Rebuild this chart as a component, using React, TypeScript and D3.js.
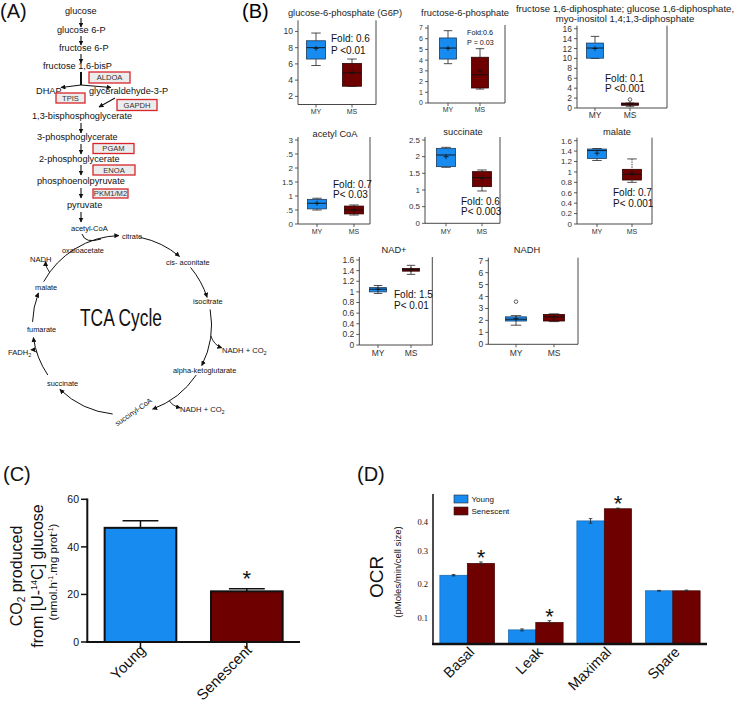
import React from "react";
import * as d3 from "d3";

const FONT = "'Liberation Sans', Arial, Helvetica, sans-serif";
const SERIF = "'Liberation Serif', 'Times New Roman', serif";
const BLUE = "#178bf0";
const DARKRED = "#6e0000";

// ---------------- Panel A (pathway) ----------------
const glycolysisSteps = [
  "glucose", "glucose 6-P", "fructose 6-P", "fructose 1,6-bisP", "DHAP", "glyceraldehyde-3-P",
  "1,3-bisphosphoglycerate", "3-phosphoglycerate", "2-phosphoglycerate", "phosphoenolpyruvate",
  "pyruvate", "acetyl-CoA",
];
const enzymes = ["ALDOA", "TPIS", "GAPDH", "PGAM", "ENOA", "PKM1/M2"];
const tcaIntermediates = [
  "citrate", "cis- aconitate", "isocitrate", "alpha-ketoglutarate", "succinate", "fumarate",
  "malate", "oxaloacetate",
];
const tcaCofactors = ["NADH", "FADH", "NADH + CO", "NADH + CO"];

// ---------------- Panel B (box plots) [min, q1, median, q3, max, mean] ----------------
const boxGroups = ["MY", "MS"];
const g6pBox = [[5.8, 6.6, 8.0, 8.85, 9.8, 7.9], [3.25, 3.25, 4.9, 6.05, 6.6, 4.95]];
const f6pBox = [[3.67, 4.1, 5.13, 6.07, 6.75, 5.1], [1.3, 1.4, 2.64, 4.27, 5.07, 2.96]];
const fbpBox = [[10.0, 10.05, 12.1, 13.1, 14.45, 12.0], [0.35, 0.55, 0.8, 1.0, 1.0, 0.8]];
const acetylCoaBox = [[0.5, 0.54, 0.74, 0.88, 0.92, 0.74], [0.32, 0.36, 0.5, 0.64, 0.68, 0.5]];
const succinateBox = [[1.68, 1.7, 2.05, 2.25, 2.28, 2.0], [0.97, 1.1, 1.37, 1.55, 1.6, 1.35]];
const malateBox = [[1.22, 1.26, 1.41, 1.44, 1.45, 1.36], [0.8, 0.845, 0.955, 1.05, 1.25, 0.97]];
const nadBox = [[0.97, 1.0, 1.05, 1.08, 1.12, 1.05], [1.33, 1.39, 1.42, 1.44, 1.5, 1.42]];
const nadhBox = [[1.6, 1.95, 2.1, 2.3, 2.4, 2.15], [1.9, 1.95, 2.3, 2.5, 2.55, 2.25]];
const fbpOutliers = [[], [1.7]];
const nadhOutliers = [[3.57], []];
const noOutliers = [[], []];

const metaboliteTitles = [
  ["glucose-6-phosphate (G6P)"],
  ["fructose-6-phosphate"],
  ["fructose 1,6-diphosphate; glucose 1,6-diphosphate,", "myo-inositol 1,4;1,3-diphosphate"],
  ["acetyl CoA"],
  ["succinate"],
  ["malate"],
  ["NAD+"],
  ["NADH"],
];
const foldTexts = [
  ["Fold: 0.6", "P <0.01"],
  ["Fold:0.6", "P = 0.03"],
  ["Fold: 0.1", "P <0.001"],
  ["Fold: 0.7", "P< 0.03"],
  ["Fold: 0.6", "P< 0.003"],
  ["Fold: 0.7", "P< 0.001"],
  ["Fold: 1.5", "P< 0.01"],
  [],
];
const boxDomains = [[1, 11], [0, 7], [0, 16], [0, 3], [0, 2.5], [0, 1.6], [0, 1.6], [0, 7]];
const boxTicks = [
  [2, 4, 6, 8, 10],
  [0, 1, 2, 3, 4, 5, 6, 7],
  [0, 2, 4, 6, 8, 10, 12, 14, 16],
  [0, 0.5, 1, 1.5, 2, 2.5, 3],
  [0, 0.5, 1, 1.5, 2, 2.5],
  [0, 0.2, 0.4, 0.6, 0.8, 1, 1.2, 1.4, 1.6],
  [0, 0.2, 0.4, 0.6, 0.8, 1, 1.2, 1.4, 1.6],
  [0, 1, 2, 3, 4, 5, 6, 7],
];
const acetylTickLabels = ["0", ".5", "1", "1.5", "2", ".5", "3"];

// ---------------- Panel C ----------------
const co2Groups = ["Young", "Senescent"];
const co2Values = [48, 21.3];
const co2Errors = [3, 1.1];
const co2Ticks = [0, 20, 40, 60];
const co2Significant = [false, true];

// ---------------- Panel D ----------------
const ocrCategories = ["Basal", "Leak", "Maximal", "Spare"];
const ocrSeries = ["Young", "Senescent"];
const ocrYoung = [0.227, 0.064, 0.405, 0.181];
const ocrSenescent = [0.2625, 0.0875, 0.448, 0.181];
const ocrYoungErr = [0.002, 0.003, 0.008, 0.001];
const ocrSenescentErr = [0.004, 0.005, 0.002, 0.002];
const ocrSignificant = [true, true, true, false];
const ocrTicks = [0.1, 0.2, 0.3, 0.4];

// ---------------- layouts (positions only) ----------------
const stepPos = [[65, 14], [57, 33], [59, 51], [43, 69], [36, 94], [89, 94], [32, 119], [37, 140], [39, 162], [37, 184], [67, 208], [71, 231]];
const enzymeBoxPos = [[89, 72, 41, 11], [56, 93, 29, 10], [117, 99.5, 40, 11], [93, 143.5, 41, 10], [93, 165, 42, 10], [93, 189, 35, 9]];
const glycoArrows = [[81, 18, 81, 27], [81, 36, 81, 45], [81, 54, 81, 63], [81, 85, 61, 87.5], [81, 85, 111, 87.5], [115, 98, 99, 107], [81, 123, 81, 133], [81, 144, 81, 154], [81, 165, 81, 175], [81, 188, 81, 198], [81, 212, 81, 222]];
const tcaLabelPos = [[122, 239], [166, 265], [193, 304], [173, 373], [47, 386], [27, 332], [35, 290], [62, 253]];
const tcaArcs = [[12, 40], [50, 72], [80, 117], [124, 160], [186, 224], [236, 262], [272, 291], [299, 358]];

const boxLayouts = [
  { left: 298, right: 376, top: 23.3, bottom: 104.5, centers: [316, 352], bw: 19, tf: 8.5, titleX: 345, titleY: [16], titleF: 9.3, foldX: 331, foldY: [42, 54], foldF: 10, labelY: 114, labelF: 7 },
  { left: 428, right: 505, top: 28, bottom: 103, centers: [448, 480], bw: 17, tf: 7, titleX: 465, titleY: [16], titleF: 9.3, foldX: 467, foldY: [35, 45], foldF: 7.2, labelY: 112, labelF: 7 },
  { left: 577, right: 667, top: 28.7, bottom: 108, centers: [595, 630], bw: 17, tf: 8.5, titleX: 625, titleY: [12, 21.5], titleF: 9.6, foldX: 605, foldY: [82, 92], foldF: 10, labelY: 118, labelF: 8.5 },
  { left: 298, right: 370, top: 140, bottom: 224, centers: [317, 354], bw: 19, tf: 8, titleX: 335, titleY: [137], titleF: 9.3, foldX: 333, foldY: [188, 198], foldF: 10, labelY: 234, labelF: 7 },
  { left: 425, right: 500, top: 140, bottom: 223.3, centers: [446, 482], bw: 19, tf: 8, titleX: 463, titleY: [135], titleF: 9.3, foldX: 461, foldY: [205, 215], foldF: 10, labelY: 234, labelF: 7 },
  { left: 577, right: 652, top: 140.7, bottom: 224, centers: [597, 632], bw: 19, tf: 8, titleX: 617, titleY: [135], titleF: 9.3, foldX: 613, foldY: [196, 206.5], foldF: 10, labelY: 234, labelF: 7 },
  { left: 359.3, right: 432.3, top: 260, bottom: 345, centers: [378, 411], bw: 17, tf: 8.5, titleX: 394, titleY: [253], titleF: 9.3, foldX: 394, foldY: [298, 309], foldF: 10, labelY: 356, labelF: 8.5 },
  { left: 488.3, right: 578, top: 260.7, bottom: 344.3, centers: [516, 554], bw: 21, tf: 8.5, titleX: 527, titleY: [253], titleF: 9.3, foldX: 0, foldY: [], foldF: 10, labelY: 356, labelF: 8.5 },
];
const boxData = [g6pBox, f6pBox, fbpBox, acetylCoaBox, succinateBox, malateBox, nadBox, nadhBox];
const boxOutliers = [noOutliers, noOutliers, fbpOutliers, noOutliers, noOutliers, noOutliers, noOutliers, nadhOutliers];

function BoxPanel({ idx }: { idx: number }) {
  const L = boxLayouts[idx];
  const data = boxData[idx];
  const y = d3.scaleLinear().domain(boxDomains[idx]).range([L.bottom, L.top]);
  const x = d3.scalePoint().domain(boxGroups).range(L.centers);
  const axisTop = L.top - 3;
  const fmt = (v: number, i: number) => (idx === 3 ? acetylTickLabels[i] : String(+v.toFixed(2)));
  return (
    <g fontFamily={FONT}>
      {metaboliteTitles[idx].map((t, i) => (
        <text key={i} x={L.titleX} y={L.titleY[i]} fontSize={L.titleF} textAnchor="middle" fill="#222">{t}</text>
      ))}
      <line x1={L.left} x2={L.left} y1={axisTop} y2={L.bottom} stroke="#333" strokeWidth={0.9} />
      <line x1={L.left} x2={L.right} y1={L.bottom} y2={L.bottom} stroke="#333" strokeWidth={0.9} />
      <line x1={L.right} x2={L.right} y1={axisTop} y2={L.bottom} stroke="#333" strokeWidth={0.9} />
      {boxTicks[idx].map((v, i) => (
        <g key={i}>
          <line x1={L.left - 3} x2={L.left} y1={y(v)} y2={y(v)} stroke="#333" strokeWidth={0.8} />
          <text x={L.left - 5} y={y(v)} dy="0.35em" fontSize={L.tf} textAnchor="end" fill="#333">{fmt(v, i)}</text>
        </g>
      ))}
      {boxGroups.map((g, gi) => {
        const [mn, q1, md, q3, mx, mean] = data[gi];
        const cx = x(g) as number;
        const fill = gi === 0 ? BLUE : DARKRED;
        const cap = L.bw * 0.5;
        return (
          <g key={g}>
            <line x1={cx} x2={cx} y1={L.bottom} y2={L.bottom + 3} stroke="#333" strokeWidth={0.8} />
            <text x={cx} y={L.labelY} fontSize={L.labelF} textAnchor="middle" fill="#333">{g}</text>
            <line x1={cx} x2={cx} y1={y(mx)} y2={y(q3)} stroke="#222" strokeWidth={0.8} strokeDasharray={idx === 5 && gi === 1 ? "1.5,1" : undefined} />
            <line x1={cx} x2={cx} y1={y(q1)} y2={y(mn)} stroke="#222" strokeWidth={0.8} />
            <line x1={cx - cap / 2} x2={cx + cap / 2} y1={y(mx)} y2={y(mx)} stroke="#222" strokeWidth={0.8} />
            <line x1={cx - cap / 2} x2={cx + cap / 2} y1={y(mn)} y2={y(mn)} stroke="#222" strokeWidth={0.8} />
            <rect x={cx - L.bw / 2} y={y(q3)} width={L.bw} height={Math.max(1.2, y(q1) - y(q3))} fill={fill} stroke={gi === 0 ? "#1d3b5c" : "#2a0000"} strokeWidth={0.8} />
            <line x1={cx - L.bw / 2} x2={cx + L.bw / 2} y1={y(md)} y2={y(md)} stroke="#111" strokeWidth={0.9} />
            <line x1={cx - 2.5} x2={cx + 2.5} y1={y(mean)} y2={y(mean)} stroke="#111" strokeWidth={0.8} />
            <line x1={cx} x2={cx} y1={y(mean) - 2.5} y2={y(mean) + 2.5} stroke="#111" strokeWidth={0.8} />
            {boxOutliers[idx][gi].map((o, oi) => (
              <circle key={oi} cx={cx} cy={y(o)} r={1.8} fill="none" stroke="#222" strokeWidth={0.7} />
            ))}
          </g>
        );
      })}
      {foldTexts[idx].map((t, i) => (
        <text key={i} x={L.foldX} y={L.foldY[i]} fontSize={L.foldF} fill="#111">{t}</text>
      ))}
    </g>
  );
}

function PanelA() {
  const cx = 122, cy = 325, r = 89.5;
  const pt = (a: number) => [cx + r * Math.sin((a * Math.PI) / 180), cy - r * Math.cos((a * Math.PI) / 180)];
  const arcPath = (a0: number, a1: number) => {
    const [x0, y0] = pt(a0);
    const [x1, y1] = pt(a1);
    return `M${x0},${y0} A${r},${r} 0 ${a1 - a0 > 180 ? 1 : 0} 1 ${x1},${y1}`;
  };
  const [n1x, n1y] = pt(97);
  const [n2x, n2y] = pt(148);
  const [fx, fy] = pt(252);
  const [nx, ny] = pt(306);
  return (
    <g fontFamily={FONT} fill="#111">
      <text x={0} y={18} fontSize={20}>(A)</text>
      {glycolysisSteps.map((s, i) => (
        <text key={s} x={stepPos[i][0]} y={stepPos[i][1]} fontSize={i === 11 ? 7.5 : 9.2}>{s}</text>
      ))}
      <line x1={81} x2={81} y1={72} y2={85} stroke="#111" strokeWidth={2} />
      {glycoArrows.map((a, i) => (
        <line key={i} x1={a[0]} y1={a[1]} x2={a[2]} y2={a[3]} stroke="#111" strokeWidth={1.1} markerEnd="url(#ah)" />
      ))}
      {enzymes.map((e, i) => {
        const [bx, by, bw, bh] = enzymeBoxPos[i];
        return (
          <g key={e}>
            <rect x={bx} y={by} width={bw} height={bh} fill="#ececec" stroke="#d8262b" strokeWidth={1.3} />
            <text x={bx + bw / 2} y={by + bh / 2} dy="0.35em" fontSize={7.6} textAnchor="middle" fill="#333">{e}</text>
          </g>
        );
      })}
      {tcaArcs.map((a, i) => (
        <path key={i} d={arcPath(a[0], a[1])} fill="none" stroke="#111" strokeWidth={1} markerEnd="url(#ah)" />
      ))}
      <path d="M82,234 Q85,244 101,239" fill="none" stroke="#111" strokeWidth={1} />
      <path d={`M${n1x},${n1y} Q${n1x + 3},${n1y + 9} ${n1x + 11},${n1y + 12}`} fill="none" stroke="#111" strokeWidth={0.9} markerEnd="url(#ah)" />
      <path d={`M${n2x},${n2y} Q${n2x + 3},${n2y + 5} ${n2x + 11},${n2y + 7}`} fill="none" stroke="#111" strokeWidth={0.9} markerEnd="url(#ah)" />
      <path d={`M${fx},${fy} Q${fx - 2},${fy - 3} ${fx - 6},${fy - 3}`} fill="none" stroke="#111" strokeWidth={0.9} markerEnd="url(#ah)" />
      <path d={`M${nx},${ny} Q${nx - 4},${ny - 5} ${nx - 4},${ny - 11}`} fill="none" stroke="#111" strokeWidth={0.9} markerEnd="url(#ah)" />
      {tcaIntermediates.map((s, i) => (
        <text key={s} x={tcaLabelPos[i][0]} y={tcaLabelPos[i][1]} fontSize={7.4}>{s}</text>
      ))}
      <text transform="translate(135,414) rotate(-35)" fontSize={7.4} textAnchor="middle">succinyl-CoA</text>
      <text x={30} y={262} fontSize={7.6}>{tcaCofactors[0]}</text>
      <text x={8} y={355} fontSize={7.6}>{tcaCofactors[1]}<tspan fontSize={5.5} dy={2}>2</tspan></text>
      <text x={222} y={353} fontSize={7.6}>{tcaCofactors[2]}<tspan fontSize={5.5} dy={2}>2</tspan></text>
      <text x={180} y={412} fontSize={7.6}>{tcaCofactors[3]}<tspan fontSize={5.5} dy={2}>2</tspan></text>
      <text x={80} y={326} fontSize={23} textLength={82} lengthAdjust="spacingAndGlyphs">TCA Cycle</text>
    </g>
  );
}

function PanelC() {
  const y = d3.scaleLinear().domain([0, 60]).range([642, 499.3]);
  const x = d3.scaleBand().domain(co2Groups).range([87.3, 300]).paddingInner(0.326).paddingOuter(0.163);
  const bw = x.bandwidth();
  return (
    <g fontFamily={FONT} fill="#111">
      <text x={3} y={481} fontSize={20}>(C)</text>
      {co2Groups.map((g, i) => {
        const x0 = x(g) as number;
        const cxp = x0 + bw / 2;
        const top = y(co2Values[i] + co2Errors[i]);
        return (
          <g key={g}>
            <line x1={cxp} x2={cxp} y1={top} y2={y(co2Values[i])} stroke="#111" strokeWidth={1.5} />
            <line x1={cxp - bw / 4} x2={cxp + bw / 4} y1={top} y2={top} stroke="#111" strokeWidth={1.5} />
            <rect x={x0} y={y(co2Values[i])} width={bw} height={y(0) - y(co2Values[i])} fill={i === 0 ? BLUE : DARKRED} stroke="#111" strokeWidth={2} />
            <line x1={cxp} x2={cxp} y1={642} y2={648} stroke="#111" strokeWidth={1.5} />
            <text transform={`translate(${cxp + 6},${651}) rotate(-45)`} fontSize={15} textAnchor="end">{g}</text>
            {co2Significant[i] && (
              <text x={cxp} y={top - 15.7 + 13} fontSize={22} textAnchor="middle">*</text>
            )}
          </g>
        );
      })}
      <line x1={87.3} x2={87.3} y1={498.5} y2={643} stroke="#111" strokeWidth={2} />
      <line x1={86.3} x2={300} y1={642} y2={642} stroke="#111" strokeWidth={2} />
      {co2Ticks.map((t) => (
        <g key={t}>
          <line x1={81} x2={87} y1={y(t)} y2={y(t)} stroke="#111" strokeWidth={1.5} />
          <text x={79} y={y(t)} dy="0.35em" fontSize={10.5} textAnchor="end">{t}</text>
        </g>
      ))}
      <g transform="translate(22,576) rotate(-90)">
        <text x={0} y={0} fontSize={16} textAnchor="middle">CO<tspan fontSize={10} dy={3}>2</tspan><tspan dy={-3}> produced</tspan></text>
        <text x={0} y={20.5} fontSize={16} textAnchor="middle">from [U-<tspan fontSize={9} dy={-6}>14</tspan><tspan dy={6}>C] glucose</tspan></text>
        <text x={4} y={35} fontSize={11.5} textAnchor="middle">(nmol.h<tspan fontSize={7} dy={-4}>-1</tspan><tspan dy={4}>.mg prot</tspan><tspan fontSize={7} dy={-4}>-1</tspan><tspan dy={4}>)</tspan></text>
      </g>
    </g>
  );
}

function PanelD() {
  const y = d3.scaleLinear().domain([0.02, 0.1, 0.2, 0.3, 0.4, 0.5]).range([644, 618.3, 584.3, 550.7, 522.3, 494]);
  const x = d3.scaleBand().domain(ocrCategories).range([433, 707]).paddingInner(0.2).paddingOuter(0.1);
  const xs = d3.scaleBand().domain(ocrSeries).range([0, x.bandwidth()]);
  const vals = [ocrYoung, ocrSenescent];
  const errs = [ocrYoungErr, ocrSenescentErr];
  const colors = [BLUE, DARKRED];
  const strokes = ["#0f5da3", "#3a0000"];
  return (
    <g fontFamily={FONT} fill="#111">
      <text x={357} y={481} fontSize={20}>(D)</text>
      {ocrCategories.map((c, ci) => (
        <g key={c}>
          {ocrSeries.map((s, si) => {
            const v = vals[si][ci];
            const e = errs[si][ci];
            const bx = (x(c) as number) + (xs(s) as number);
            const mid = bx + xs.bandwidth() / 2;
            return (
              <g key={s}>
                <rect x={bx} y={y(v)} width={xs.bandwidth()} height={644 - y(v)} fill={colors[si]} stroke={strokes[si]} strokeWidth={0.6} />
                <line x1={mid} x2={mid} y1={y(v + e)} y2={y(v - e)} stroke="#222" strokeWidth={0.8} />
                <line x1={mid - 1.8} x2={mid + 1.8} y1={y(v + e)} y2={y(v + e)} stroke="#222" strokeWidth={0.8} />
                <line x1={mid - 1.8} x2={mid + 1.8} y1={y(v - e)} y2={y(v - e)} stroke="#222" strokeWidth={0.8} />
                {si === 1 && ocrSignificant[ci] && (
                  <text x={mid} y={y(v + e) - 10 + 13} fontSize={22} textAnchor="middle">*</text>
                )}
              </g>
            );
          })}
          <text transform={`translate(${(x(c) as number) + x.bandwidth() / 2 + 8},${653}) rotate(-45)`} fontSize={14.5} textAnchor="end">{c}</text>
        </g>
      ))}
      <line x1={433} x2={433} y1={494} y2={645} stroke="#111" strokeWidth={1.5} />
      <line x1={432} x2={707} y1={644} y2={644} stroke="#111" strokeWidth={2.5} />
      {ocrTicks.map((t) => (
        <text key={t} x={428} y={y(t)} dy="0.35em" fontSize={8.5} fontFamily={SERIF} textAnchor="end">{t.toFixed(1)}</text>
      ))}
      {ocrSeries.map((s, si) => (
        <g key={s}>
          <rect x={454} y={495 + si * 12} width={14} height={8} fill={colors[si]} stroke="#222" strokeWidth={0.6} />
          <text x={471.5} y={502 + si * 12} fontSize={8}>{s}</text>
        </g>
      ))}
      <text transform="translate(383,577) rotate(-90)" fontSize={19} textAnchor="middle">OCR</text>
      <text transform="translate(401,572) rotate(-90)" fontSize={9.5} textAnchor="middle">(pMoles/min/cell size)</text>
    </g>
  );
}

export default function App() {
  return (
    <svg width={750} height={702} style={{ position: "absolute", left: 0, top: 0, background: "#fff" }}>
      <defs>
        <marker id="ah" viewBox="0 0 10 10" refX="9" refY="5" markerWidth="5" markerHeight="5" markerUnits="userSpaceOnUse" orient="auto">
          <path d="M0,0 L10,5 L0,10 z" fill="#111" />
        </marker>
      </defs>
      <rect width={750} height={702} fill="#fff" />
      <PanelA />
      <text x={242} y={18} fontSize={20} fontFamily={FONT}>(B)</text>
      {boxLayouts.map((_, i) => (
        <BoxPanel key={i} idx={i} />
      ))}
      <PanelC />
      <PanelD />
    </svg>
  );
}
